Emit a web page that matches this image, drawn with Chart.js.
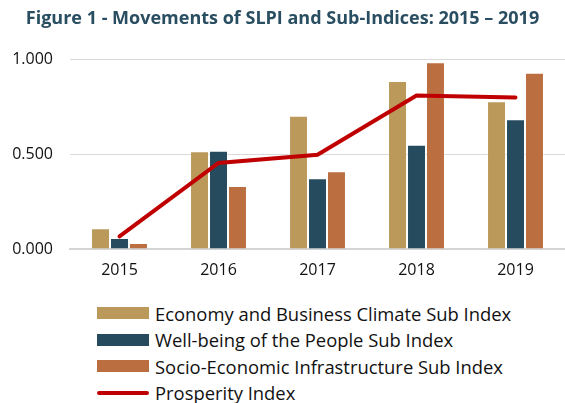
<!DOCTYPE html>
<html>
<head>
<meta charset="utf-8">
<script src="https://cdn.jsdelivr.net/npm/chart.js@4.4.1/dist/chart.umd.min.js"></script>
<style>
  html, body { margin: 0; padding: 0; background: #ffffff; }
  #wrap { position: relative; width: 565px; height: 403px; overflow: hidden; }
  #c { position: absolute; left: 0; top: 0; }
  #legend { position: absolute; left: 97px; top: 300px; font-family: "Open Sans", sans-serif; font-size: 18.4px; color: #111111; }
  .row { height: 26.5px; display: flex; align-items: center; white-space: nowrap; }
  .sw { width: 52px; margin-right: 6px; flex: none; }
</style>
</head>
<body>
<div id="wrap">
  <canvas id="c" width="565" height="290"></canvas>
  <div id="legend"></div>
</div>
<script>
const years = ["2015", "2016", "2017", "2018", "2019"];
const economy = [0.109, 0.516, 0.704, 0.887, 0.780];
const wellbeing = [0.058, 0.519, 0.373, 0.551, 0.685];
const infrastructure = [0.032, 0.333, 0.410, 0.986, 0.931];
const prosperity = [0.067, 0.454, 0.498, 0.810, 0.800];
const yTicks = [0, 0.5, 1];

const seriesNames = [
  "Economy and Business Climate Sub Index",
  "Well-being of the People Sub Index",
  "Socio-Economic Infrastructure Sub Index",
  "Prosperity Index"
];
const colors = ["#BA995B", "#264B5E", "#BB6E3F", "#C00000"];

const chart = new Chart(document.getElementById("c"), {
  data: {
    labels: years,
    datasets: [
      { type: "line", label: seriesNames[3], data: prosperity, borderColor: colors[3], backgroundColor: colors[3],
        borderWidth: 4, pointRadius: 0, tension: 0, order: 0, borderCapStyle: "round" },
      { type: "bar", label: seriesNames[0], data: economy, backgroundColor: colors[0], borderColor: "rgba(255,255,255,0.35)", borderWidth: 1, order: 1 },
      { type: "bar", label: seriesNames[1], data: wellbeing, backgroundColor: colors[1], borderColor: "rgba(255,255,255,0.35)", borderWidth: 1, order: 1 },
      { type: "bar", label: seriesNames[2], data: infrastructure, backgroundColor: colors[2], borderColor: "rgba(255,255,255,0.35)", borderWidth: 1, order: 1 }
    ]
  },
  options: {
    responsive: false,
    animation: false,
    devicePixelRatio: 1,
    layout: { padding: { left: 0, right: 0, top: 0, bottom: 0 } },
    datasets: { bar: { categoryPercentage: 0.575, barPercentage: 1.0 } },
    plugins: {
      legend: { display: false },
      tooltip: { enabled: false },
      title: {
        display: true,
        text: "Figure 1 - Movements of SLPI and Sub-Indices: 2015 \u2013 2019",
        color: "#2A4E61",
        font: { family: "Open Sans", size: 18, weight: "bold" },
        padding: { top: 8, bottom: 30 }
      }
    },
    scales: {
      x: {
        grid: { display: false, drawTicks: false },
        border: { display: true, color: "#D4D4D4", width: 2 },
        ticks: { color: "#111111", font: { family: "Open Sans", size: 16 }, padding: 12 },
        afterFit: (s) => { s.height = 41; }
      },
      y: {
        min: 0, max: 1,
        afterBuildTicks: (s) => { s.ticks = yTicks.map(v => ({ value: v })); },
        grid: { color: "#D9D9D9", lineWidth: 1, drawTicks: false },
        border: { display: false },
        ticks: { color: "#111111", font: { family: "Open Sans", size: 16 }, padding: 17,
                 callback: (v) => Number(v).toFixed(3) },
        afterFit: (s) => { s.width = 70; }
      }
    }
  }
});

// HTML legend built from dataset info
const legend = document.getElementById("legend");
const order = [1, 2, 3, 0];
order.forEach(i => {
  const ds = chart.data.datasets[i];
  const row = document.createElement("div");
  row.className = "row";
  const sw = document.createElement("span");
  sw.className = "sw";
  if (ds.type === "line") {
    sw.style.height = "4px";
    sw.style.borderRadius = "2px";
  } else {
    sw.style.height = "12px";
  }
  sw.style.background = ds.backgroundColor;
  const tx = document.createElement("span");
  tx.textContent = ds.label;
  row.appendChild(sw);
  row.appendChild(tx);
  legend.appendChild(row);
});
</script>
</body>
</html>
